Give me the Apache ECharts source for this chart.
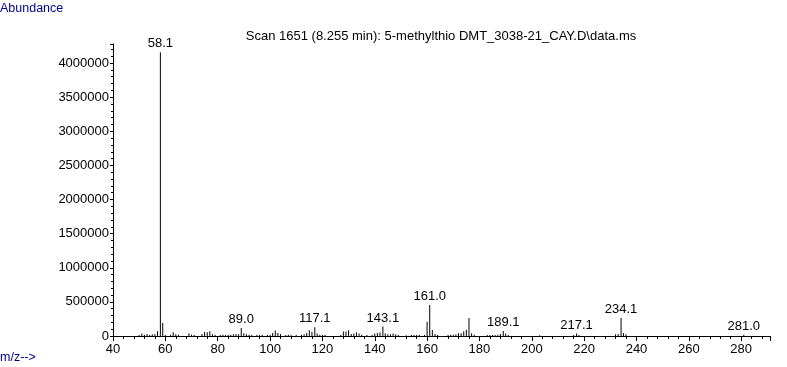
<!DOCTYPE html>
<html>
<head>
<meta charset="utf-8">
<script src="https://cdn.jsdelivr.net/npm/echarts@6/dist/echarts.min.js"></script>
<style>
html,body{margin:0;padding:0;background:#fff;}
#chart{width:787px;height:367px;}
</style>
</head>
<body>
<div id="chart"></div>
<script>
// m/z values of the peaks
const mzValues = [
  50, 51, 52, 53, 54, 55, 56, 57, 58.1, 59, 60, 62, 63, 64, 65, 69, 70, 71, 74, 75, 76, 77, 78, 79,
  81, 82, 83, 84, 85, 86, 87, 88, 89.0, 90, 91, 92, 93, 95, 96, 97, 99, 100, 101, 102, 103, 104,
  106, 107, 108, 110, 112, 113, 114, 115, 116, 117.1, 118, 119, 120, 121, 127, 128, 129, 130, 131,
  132, 133, 134, 135, 137, 139, 140, 141, 142, 143.1, 144, 145, 146, 147, 148, 149, 152, 154, 155,
  156, 157, 159, 160, 161.0, 162, 163, 164, 168, 169, 170, 171, 172, 173, 174, 175, 176, 177, 178,
  183, 184, 185, 186, 187, 188, 189.1, 190, 191, 203, 216, 217.1, 218, 232, 233, 234.1, 235, 236, 281.0
];
// abundances of the peaks
const abundances = [
  15000, 35000, 20000, 30000, 15000, 25000, 30000, 70000, 4160000, 190000, 15000, 20000, 55000, 25000, 20000, 40000, 20000, 15000, 30000, 60000, 55000, 70000, 25000, 20000,
  15000, 20000, 15000, 20000, 20000, 25000, 30000, 25000, 117000, 40000, 25000, 20000, 15000, 20000, 15000, 20000, 15000, 20000, 45000, 80000, 45000, 30000,
  15000, 20000, 15000, 15000, 20000, 25000, 45000, 85000, 60000, 130000, 35000, 20000, 15000, 20000, 15000, 65000, 65000, 85000, 30000,
  35000, 55000, 35000, 20000, 15000, 15000, 35000, 45000, 50000, 140000, 40000, 25000, 25000, 35000, 25000, 15000, 10000, 15000, 15000,
  15000, 20000, 15000, 210000, 454000, 88000, 30000, 15000, 15000, 20000, 20000, 25000, 40000, 40000, 68000, 90000, 264000, 40000, 20000,
  15000, 15000, 15000, 15000, 20000, 30000, 73000, 35000, 15000, 12000, 15000, 35000, 15000, 25000, 30000, 265000, 45000, 25000, 20000
];
// peaks that carry a label
const labeledPeaks = [58.1, 89.0, 117.1, 143.1, 161.0, 189.1, 217.1, 234.1, 281.0];

const titleText = 'Scan 1651 (8.255 min): 5-methylthio DMT_3038-21_CAY.D\\data.ms';
const yAxisName = 'Abundance';
const xAxisName = 'm/z-->';

const FONT = '"Liberation Sans", Arial, sans-serif';

const seriesData = mzValues.map((mz, i) => {
  const item = { value: [mz, abundances[i]] };
  if (labeledPeaks.includes(mz)) {
    item.label = { show: true };
  }
  return item;
});

const chart = echarts.init(document.getElementById('chart'), null, { renderer: 'canvas' });
chart.setOption({
  animation: false,
  backgroundColor: '#fff',
  title: {
    text: titleText,
    left: 441,
    top: 25,
    textAlign: 'center',
    textStyle: { fontFamily: FONT, fontSize: 13, fontWeight: 'normal', color: '#000' }
  },
  graphic: [
    { type: 'text', left: 0, top: 2, style: { text: yAxisName, font: '12.5px ' + FONT, fill: '#00008b' } },
    { type: 'text', left: 0, top: 351, style: { text: xAxisName, font: '12.5px ' + FONT, fill: '#00008b' } }
  ],
  grid: { left: 113, right: 17, top: 44, bottom: 31, containLabel: false },
  xAxis: {
    type: 'value',
    min: 40,
    max: 291,
    interval: 20,
    axisLine: { show: true, onZero: false, lineStyle: { color: '#000', width: 1 } },
    axisTick: { show: true, inside: false, length: 5, lineStyle: { color: '#000' } },
    minorTick: { show: true, splitNumber: 5, length: 3, lineStyle: { color: '#000' } },
    splitLine: { show: false },
    axisLabel: {
      showMaxLabel: false,
      color: '#000', fontFamily: FONT, fontSize: 13, margin: 7,
      formatter: v => String(v)
    }
  },
  yAxis: {
    type: 'value',
    min: 0,
    max: 4280000,
    interval: 500000,
    axisLine: { show: true, lineStyle: { color: '#000', width: 1 } },
    axisTick: { show: true, inside: false, length: 3, lineStyle: { color: '#000' } },
    minorTick: { show: true, splitNumber: 5, length: 2, lineStyle: { color: '#000' } },
    splitLine: { show: false },
    axisLabel: {
      showMaxLabel: false,
      color: '#000', fontFamily: FONT, fontSize: 13, margin: 4,
      formatter: v => String(v)
    }
  },
  series: [{
    type: 'bar',
    data: seriesData,
    barWidth: 1,
    itemStyle: { color: '#000' },
    label: {
      show: false,
      position: 'top',
      distance: 2,
      color: '#000',
      fontFamily: FONT,
      fontSize: 13,
      formatter: p => p.value[0].toFixed(1)
    }
  }]
});
chart.setOption({ title: { left: 436 } });
</script>
</body>
</html>
